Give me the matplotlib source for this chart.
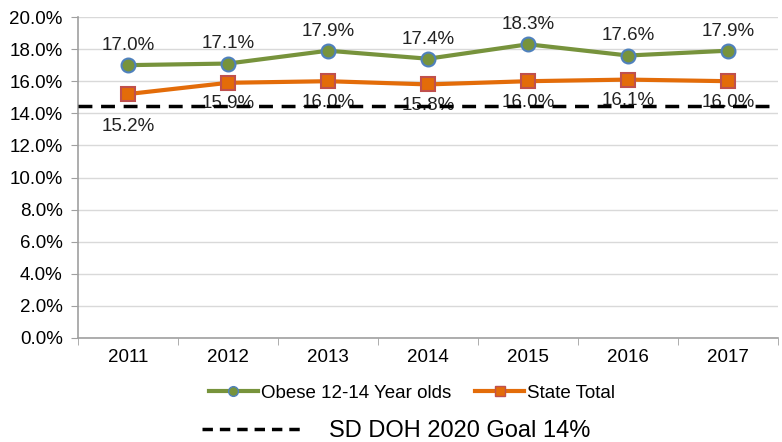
import matplotlib.pyplot as plt
from matplotlib.lines import Line2D
from matplotlib.ticker import FuncFormatter

plt.rcParams['font.family'] = ['Liberation Sans', 'DejaVu Sans']

years = ['2011', '2012', '2013', '2014', '2015', '2016', '2017']
obese_12_14 = [17.0, 17.1, 17.9, 17.4, 18.3, 17.6, 17.9]
state_total = [15.2, 15.9, 16.0, 15.8, 16.0, 16.1, 16.0]
goal_line = 14.45  # where the dashed line sits in the picture
goal_label = 'SD DOH 2020 Goal 14%'

green = '#77933C'
orange = '#E36C09'

fig = plt.figure(figsize=(7.82, 4.42), dpi=100)
ax = fig.add_axes([78/782, 1 - 338/442, 700/782, 321/442])

x = list(range(len(years)))
ax.plot(x, obese_12_14, color=green, lw=3, marker='o', ms=10,
        mfc=green, mec='#4F81BD', mew=1.5, zorder=4)
ax.plot(x, state_total, color=orange, lw=3, marker='s', ms=10,
        mfc=orange, mec='#C0504D', mew=1.5, zorder=4)
ax.axhline(goal_line, color='black', lw=2.5, ls=(0, (4, 2.5)), zorder=5)

for i, v in enumerate(obese_12_14):
    ax.annotate(f'{v:.1f}%', (i, v), xytext=(0, 8), textcoords='offset points',
                ha='center', va='bottom', fontsize=13.5, color='#222222')
for i, v in enumerate(state_total):
    dy = -17 if i == 0 else -9
    ax.annotate(f'{v:.1f}%', (i, v), xytext=(0, dy), textcoords='offset points',
                ha='center', va='top', fontsize=13.5, color='#222222', zorder=3)

ax.set_xlim(-0.5, len(years) - 0.5)
ax.set_ylim(0, 20)
ax.set_yticks([i * 2 for i in range(11)])
ax.yaxis.set_major_formatter(FuncFormatter(lambda v, p: f'{v:.1f}%'))
ax.set_xticks(x)
ax.set_xticklabels(years)
ax.set_xticks([i - 0.5 for i in range(len(years) + 1)], minor=True)
ax.tick_params(axis='x', which='major', length=0, labelsize=13.5, pad=8)
ax.tick_params(axis='x', which='minor', length=5, color='#A0A0A0')
ax.tick_params(axis='y', length=5, color='#A0A0A0', labelsize=13.5, pad=6)
ax.grid(axis='y', color='#D9D9D9', lw=1)
ax.set_axisbelow(True)
for s in ['top', 'right']:
    ax.spines[s].set_visible(False)
for s in ['left', 'bottom']:
    ax.spines[s].set_color('#A0A0A0')
    ax.spines[s].set_linewidth(1.2)

h1 = Line2D([], [], color=green, lw=3, marker='o', ms=7, mfc=green, mec='#4F81BD')
h2 = Line2D([], [], color=orange, lw=3, marker='s', ms=7, mfc=orange, mec='#C0504D')
fig.legend([h1, h2], ['Obese 12-14 Year olds', 'State Total'], loc='center',
           bbox_to_anchor=(412/782, 1 - 393/442), ncol=2, frameon=False,
           fontsize=13.5, handlelength=2.6, handletextpad=0.15, columnspacing=1.3)
h3 = Line2D([], [], color='black', lw=2.5, ls=(0, (3, 2)))
fig.legend([h3], [goal_label], loc='center', bbox_to_anchor=(396/782, 1 - 431/442),
           frameon=False, fontsize=17, handlelength=4.2, handletextpad=1.2)

fig.savefig('out.png', dpi=100)
